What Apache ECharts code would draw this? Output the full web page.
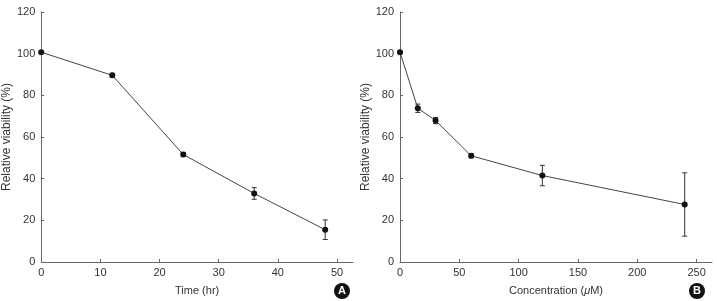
<!DOCTYPE html>
<html>
<head>
<meta charset="utf-8">
<script src="https://cdn.jsdelivr.net/npm/echarts@6/dist/echarts.min.js"></script>
<style>
  html, body { margin: 0; padding: 0; background: #fff; }
  #chart { width: 717px; height: 301px; }
</style>
</head>
<body>
<div id="chart"></div>
<script>
// panel A: viability over time
const timeHr = [0, 12, 24, 36, 48];
const timeViability = [100.7, 89.6, 51.6, 32.9, 15.5];
const timeErr = [0.5, 1.0, 1.0, 2.8, 4.7];

// panel B: viability over concentration
const concUM = [0, 15, 30, 60, 120, 240];
const concViability = [100.7, 73.8, 67.9, 51.0, 41.5, 27.6];
const concErr = [0.5, 2.0, 1.5, 1.0, 4.9, 15.2];

const yTicks = [0, 20, 40, 60, 80, 100, 120];
const timeTicks = [0, 10, 20, 30, 40, 50];
const concTicks = [0, 50, 100, 150, 200, 250];

const FONT = "Liberation Sans, Arial, sans-serif";
const AXIS_COLOR = "#666";

const chart = echarts.init(document.getElementById("chart"));

function xAxisFor(gridIndex, max, ticks, name) {
  return {
    type: "value",
    gridIndex,
    min: 0,
    max,
    name,
    nameLocation: "middle",
    nameGap: 23,
    nameTextStyle: { color: "#333", fontSize: 11, fontFamily: FONT },
    axisLine: { show: true, lineStyle: { color: AXIS_COLOR, width: 1 } },
    axisTick: { show: true, inside: true, length: 3, customValues: ticks, lineStyle: { color: AXIS_COLOR } },
    axisLabel: { customValues: ticks, color: "#333", fontSize: 11, fontFamily: FONT, margin: 5 },
    splitLine: { show: false }
  };
}

function yAxisFor(gridIndex) {
  return {
    type: "value",
    gridIndex,
    min: 0,
    max: 120,
    interval: 20,
    name: "Relative viability (%)",
    nameLocation: "middle",
    nameGap: 27,
    nameTextStyle: { color: "#333", fontSize: 12, fontFamily: FONT },
    axisLine: { show: true, lineStyle: { color: AXIS_COLOR, width: 1 } },
    axisTick: { show: true, inside: true, length: 3, customValues: yTicks, lineStyle: { color: AXIS_COLOR } },
    axisLabel: { customValues: yTicks, color: "#333", fontSize: 11, fontFamily: FONT, margin: 6 },
    splitLine: { show: false }
  };
}

function errorSeries(idx, xs, ys, errs) {
  return {
    type: "custom",
    xAxisIndex: idx,
    yAxisIndex: idx,
    z: 1,
    data: xs.map((x, i) => [x, ys[i] - errs[i], ys[i] + errs[i]]),
    renderItem: (params, api) => {
      const lo = api.coord([api.value(0), api.value(1)]);
      const hi = api.coord([api.value(0), api.value(2)]);
      const cap = 2.5;
      const style = { stroke: "#333", lineWidth: 1 };
      return {
        type: "group",
        children: [
          { type: "line", shape: { x1: lo[0], y1: lo[1], x2: hi[0], y2: hi[1] }, style },
          { type: "line", shape: { x1: lo[0] - cap, y1: lo[1], x2: lo[0] + cap, y2: lo[1] }, style },
          { type: "line", shape: { x1: hi[0] - cap, y1: hi[1], x2: hi[0] + cap, y2: hi[1] }, style }
        ]
      };
    }
  };
}

function lineSeries(idx, xs, ys) {
  return {
    type: "line",
    xAxisIndex: idx,
    yAxisIndex: idx,
    z: 2,
    data: xs.map((x, i) => [x, ys[i]]),
    symbol: "circle",
    symbolSize: 6,
    itemStyle: { color: "#111" },
    lineStyle: { color: "#444", width: 1 },
    animation: false
  };
}

function badge(cx, cy, letter) {
  return {
    type: "group",
    children: [
      { type: "circle", shape: { cx, cy, r: 8 }, style: { fill: "#111" } },
      {
        type: "text",
        x: cx,
        y: cy,
        style: {
          text: letter,
          fill: "#fff",
          font: "bold 11px " + FONT,
          align: "center",
          verticalAlign: "middle"
        }
      }
    ]
  };
}

chart.setOption({
  animation: false,
  backgroundColor: "#fff",
  grid: [
    { left: 41, top: 12, width: 312, height: 250 },
    { left: 400, top: 12, width: 312, height: 250 }
  ],
  xAxis: [
    xAxisFor(0, 52.7, timeTicks, "Time (hr)"),
    xAxisFor(1, 263, concTicks, "Concentration ({it|\u03bc}M)")
  ],
  yAxis: [yAxisFor(0), yAxisFor(1)],
  series: [
    errorSeries(0, timeHr, timeViability, timeErr),
    lineSeries(0, timeHr, timeViability),
    errorSeries(1, concUM, concViability, concErr),
    lineSeries(1, concUM, concViability)
  ],
  graphic: [badge(342, 291, "A"), badge(697, 291, "B")]
});

// italic mu in the concentration axis name
chart.setOption({
  xAxis: [{}, { nameTextStyle: { rich: { it: { fontStyle: "italic", fontSize: 11, color: "#333", fontFamily: FONT } } } }]
});
</script>
</body>
</html>
